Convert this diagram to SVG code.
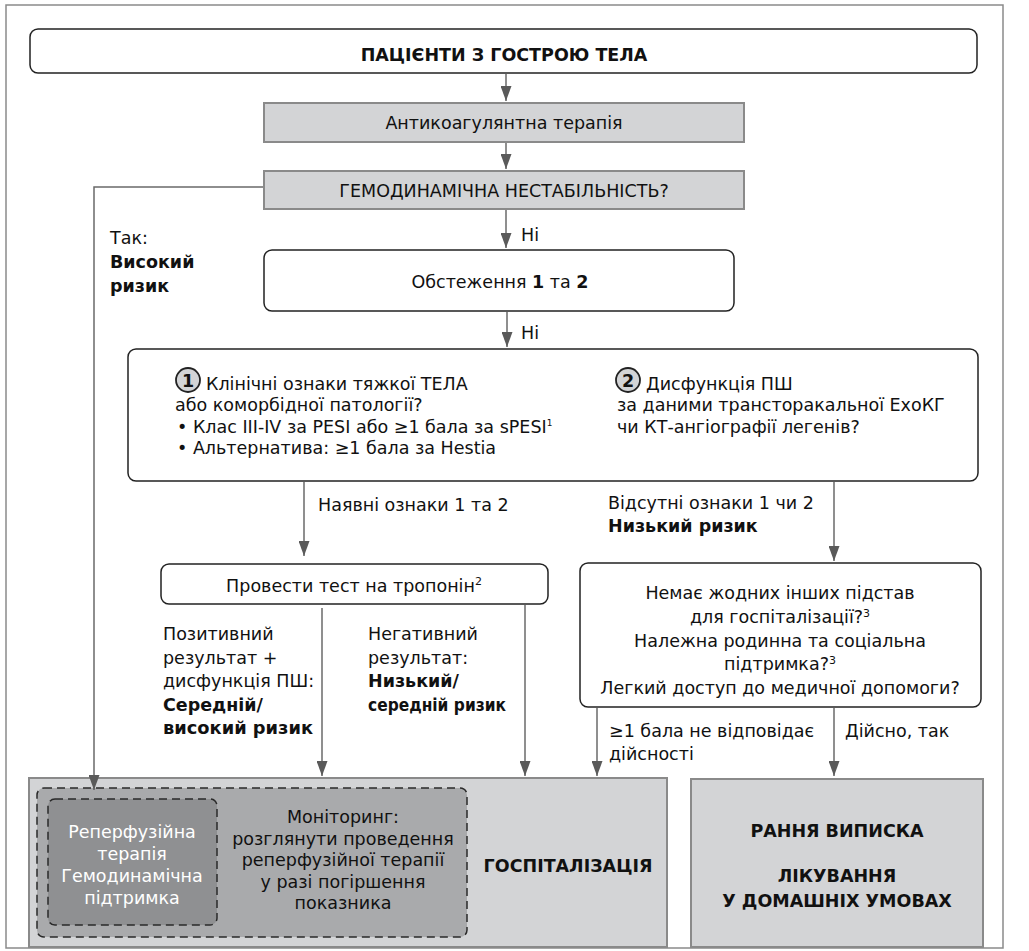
<svg xmlns="http://www.w3.org/2000/svg" width="1029" height="951" viewBox="0 0 1029 951">
<defs>
<marker id="ah" viewBox="0 0 15 11" markerWidth="15" markerHeight="11" refX="15" refY="5.5" orient="auto" markerUnits="userSpaceOnUse">
<path d="M0,0 L15,5.5 L0,11 Z" fill="#5a5a5a"/>
</marker>
<style>
text{font-family:"DejaVu Sans","Liberation Sans",sans-serif;fill:#111;font-size:17.5px}
.b{font-weight:bold}
.c{text-anchor:middle}
.w{fill:#fff}
.white{fill:#fff;stroke:#222;stroke-width:1.5}
.gray{fill:#d3d4d6;stroke:#8a8a8a;stroke-width:2}
.num{fill:#d3d4d6;stroke:#222;stroke-width:1.8}
.conn line,.conn polyline{stroke:#6a6a6a;stroke-width:1.5;fill:none}
.arr{marker-end:url(#ah)}
</style>
</defs>
<rect x="6" y="5" width="997" height="943" fill="#fff" stroke="#8a8a8a" stroke-width="1.5"/>

<g id="n-start">
<rect class="white" x="30" y="29" width="947" height="44" rx="8"/>
<text class="b c" x="504" y="61" font-size="19">ПАЦІЄНТИ З ГОСТРОЮ ТЕЛА</text>
</g>
<g id="n-anticoag">
<rect class="gray" x="264" y="103" width="480" height="39"/>
<text class="c" x="504" y="129" font-size="18.5">Антикоагулянтна терапія</text>
</g>
<g id="n-hemo">
<rect class="gray" x="264" y="171" width="480" height="38"/>
<text class="c" x="504" y="197" font-size="18">ГЕМОДИНАМІЧНА НЕСТАБІЛЬНІСТЬ?</text>
</g>
<g id="l-ni1"><text x="521" y="241" font-size="18">Ні</text></g>
<g id="l-high">
<text x="110" y="244" font-size="18">Так:</text>
<text class="b" x="110" y="268" font-size="18">Високий</text>
<text class="b" x="110" y="292" font-size="18">ризик</text>
</g>
<g id="n-exam">
<rect class="white" x="264" y="250" width="470" height="61" rx="8"/>
<text class="c" x="500" y="288" font-size="18.5">Обстеження <tspan class="b">1</tspan> та <tspan class="b">2</tspan></text>
</g>
<g id="l-ni2"><text x="521" y="339" font-size="18">Ні</text></g>
<g id="n-criteria">
<rect class="white" x="128" y="349" width="850" height="132" rx="8"/>
<circle class="num" cx="188" cy="380" r="12"/>
<text class="b c" x="188" y="386.5" font-size="18">1</text>
<text x="206" y="390">Клінічні ознаки тяжкої ТЕЛА</text>
<text x="175" y="411">або коморбідної патології?</text>
<text x="177" y="433">• Клас III-IV за PESI або ≥1 бала за sPESI<tspan font-size="9" dy="-7">1</tspan></text>
<text x="177" y="454">• Альтернатива: ≥1 бала за Hestia</text>
<circle class="num" cx="628" cy="380" r="12"/>
<text class="b c" x="628" y="386.5" font-size="18">2</text>
<text x="646" y="390">Дисфункція ПШ</text>
<text x="617" y="411">за даними трансторакальної ЕхоКГ</text>
<text x="617" y="433">чи КТ-ангіографії легенів?</text>
</g>
<g id="l-present"><text x="318" y="511">Наявні ознаки 1 та 2</text></g>
<g id="l-absent">
<text x="608" y="509">Відсутні ознаки 1 чи 2</text>
<text class="b" x="608" y="532">Низький ризик</text>
</g>
<g id="n-troponin">
<rect class="white" x="161" y="564" width="387" height="40" rx="8"/>
<text class="c" x="354" y="592">Провести тест на тропонін<tspan font-size="11" dy="-7">2</tspan></text>
</g>
<g id="n-questions">
<rect class="white" x="580" y="563" width="401" height="144" rx="8"/>
<text class="c" x="780" y="599">Немає жодних інших підстав</text>
<text class="c" x="780" y="623">для госпіталізації?<tspan font-size="11" dy="-6">3</tspan></text>
<text class="c" x="780" y="647">Належна родинна та соціальна</text>
<text class="c" x="780" y="670">підтримка?<tspan font-size="11" dy="-6">3</tspan></text>
<text class="c" x="780" y="694">Легкий доступ до медичної допомоги?</text>
</g>
<g id="l-pos">
<text x="163" y="640">Позитивний</text>
<text x="163" y="664">результат +</text>
<text x="163" y="687">дисфункція ПШ:</text>
<text class="b" x="163" y="711">Середній/</text>
<text class="b" x="163" y="734" textLength="150" lengthAdjust="spacingAndGlyphs">високий ризик</text>
</g>
<g id="l-neg">
<text x="368" y="640">Негативний</text>
<text x="368" y="664">результат:</text>
<text class="b" x="368" y="687">Низький/</text>
<text class="b" x="368" y="711" textLength="138" lengthAdjust="spacingAndGlyphs">середній ризик</text>
</g>
<g id="l-notmet">
<text x="609" y="737">≥1 бала не відповідає</text>
<text x="609" y="760">дійсності</text>
</g>
<g id="l-yes"><text x="845" y="737">Дійсно, так</text></g>
<g id="n-hospital">
<rect class="gray" x="29" y="778" width="638" height="169"/>
<rect x="37" y="788" width="430" height="149" rx="7" fill="#a9aaac" stroke="#2a2a2a" stroke-width="1.5" stroke-dasharray="8,5"/>
<rect x="48" y="799" width="169" height="126" rx="7" fill="#8f9092" stroke="#2a2a2a" stroke-width="1.5" stroke-dasharray="8,5"/>
<text class="c w" x="132" y="838">Реперфузійна</text>
<text class="c w" x="132" y="860">терапія</text>
<text class="c w" x="132" y="882">Гемодинамічна</text>
<text class="c w" x="132" y="904">підтримка</text>
<text class="c" x="343" y="823">Моніторинг:</text>
<text class="c" x="343" y="845">розглянути проведення</text>
<text class="c" x="343" y="866">реперфузійної терапії</text>
<text class="c" x="343" y="888">у разі погіршення</text>
<text class="c" x="343" y="909">показника</text>
<text class="b c" x="568" y="872" font-size="19">ГОСПІТАЛІЗАЦІЯ</text>
</g>
<g id="n-discharge">
<rect class="gray" x="691" y="779" width="292" height="168"/>
<text class="b c" x="837" y="837" font-size="19">РАННЯ ВИПИСКА</text>
<text class="b c" x="837" y="882" font-size="19">ЛІКУВАННЯ</text>
<text class="b c" x="837" y="907" font-size="19">У ДОМАШНІХ УМОВАХ</text>
</g>

<g class="conn">
<line class="arr" x1="506" y1="74" x2="506" y2="101"/>
<line class="arr" x1="506" y1="143" x2="506" y2="169"/>
<line class="arr" x1="506" y1="210" x2="506" y2="248"/>
<line class="arr" x1="507" y1="312" x2="507" y2="347"/>
<polyline class="arr" points="263,187 94,187 94,790"/>
<line class="arr" x1="304" y1="482" x2="304" y2="556"/>
<line class="arr" x1="834" y1="482" x2="834" y2="561"/>
<line class="arr" x1="322" y1="608" x2="322" y2="776"/>
<line class="arr" x1="525" y1="605" x2="525" y2="776"/>
<line class="arr" x1="597" y1="708" x2="597" y2="776"/>
<line class="arr" x1="834" y1="708" x2="834" y2="776"/>
</g>
</svg>
